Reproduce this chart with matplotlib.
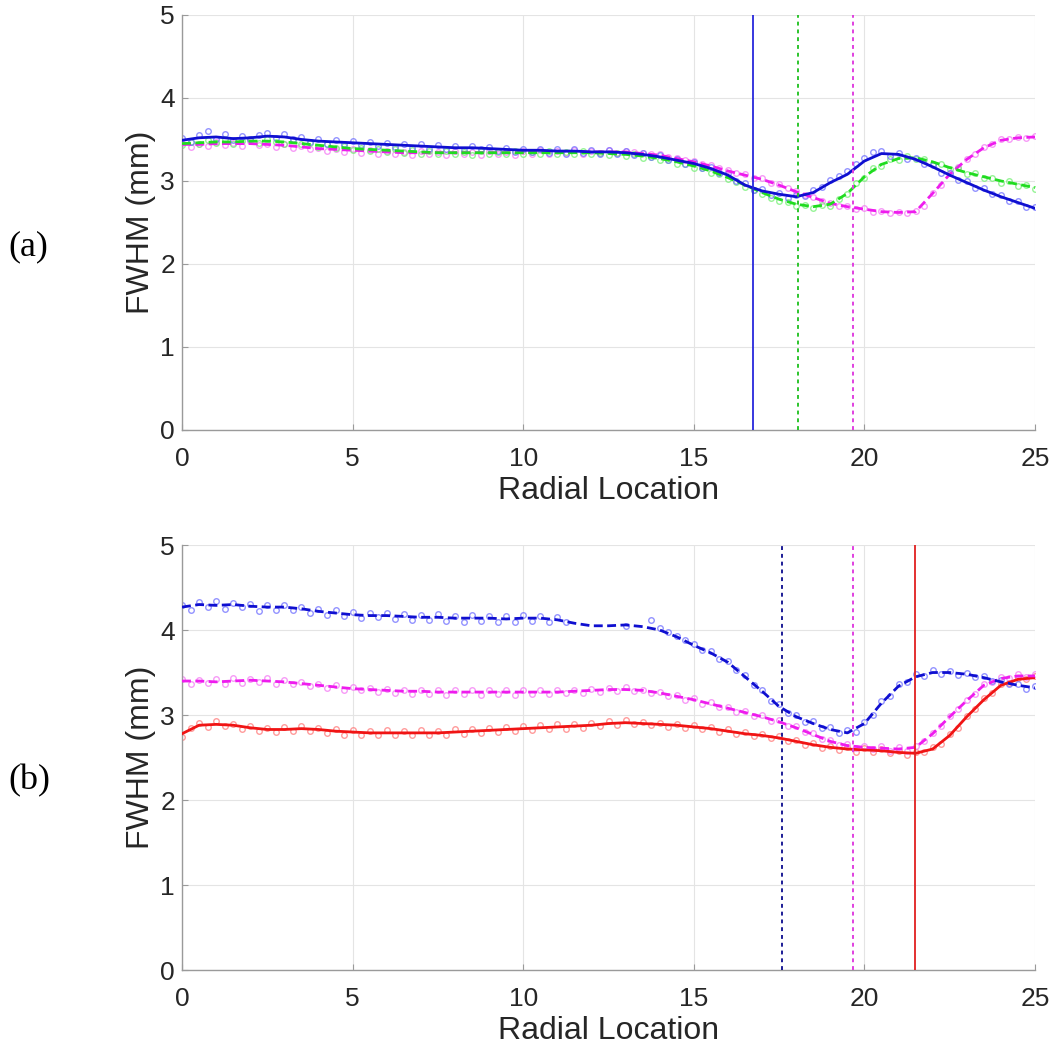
import numpy as np
import matplotlib
matplotlib.use("Agg")
import matplotlib.pyplot as plt

plt.rcParams["font.family"] = ["Liberation Sans", "DejaVu Sans"]

# ---------------- panel (a) ----------------
# smoothed fits, sampled every 0.5 from 0 to 25
a_blue_fit = [3.49, 3.52, 3.53, 3.51, 3.52, 3.54, 3.53, 3.50, 3.48, 3.47, 3.46, 3.45, 3.44, 3.43, 3.42, 3.41,
              3.40, 3.40, 3.39, 3.38, 3.37, 3.37, 3.36, 3.36, 3.35, 3.35, 3.34, 3.32, 3.29, 3.25, 3.21, 3.15,
              3.07, 2.95, 2.88, 2.84, 2.81, 2.86, 2.98, 3.08, 3.24, 3.33, 3.32, 3.26, 3.17, 3.07, 2.98, 2.89,
              2.81, 2.74, 2.67]
a_green_fit = [3.45, 3.46, 3.47, 3.47, 3.48, 3.48, 3.47, 3.45, 3.43, 3.41, 3.39, 3.38, 3.37, 3.36, 3.35, 3.34,
               3.34, 3.34, 3.34, 3.34, 3.34, 3.34, 3.34, 3.34, 3.34, 3.33, 3.32, 3.30, 3.27, 3.23, 3.18, 3.12,
               3.04, 2.95, 2.86, 2.78, 2.72, 2.69, 2.72, 2.85, 3.05, 3.20, 3.27, 3.28, 3.23, 3.16, 3.10, 3.05,
               3.00, 2.96, 2.92]
a_magenta_fit = [3.44, 3.44, 3.45, 3.45, 3.45, 3.44, 3.43, 3.41, 3.39, 3.38, 3.37, 3.36, 3.35, 3.34, 3.34, 3.34,
                 3.34, 3.34, 3.34, 3.34, 3.34, 3.35, 3.35, 3.35, 3.35, 3.35, 3.35, 3.33, 3.31, 3.27, 3.23, 3.18,
                 3.12, 3.07, 3.02, 2.95, 2.87, 2.80, 2.73, 2.69, 2.66, 2.63, 2.62, 2.63, 2.85, 3.08, 3.26, 3.40,
                 3.49, 3.52, 3.53]

# measured points, sampled every 0.25 from 0 to 25
a_blue_pts = [3.52, 3.47, 3.55, 3.60, 3.50, 3.56, 3.49, 3.54, 3.50, 3.55, 3.58, 3.52, 3.56, 3.50, 3.53, 3.47,
              3.50, 3.45, 3.49, 3.44, 3.48, 3.43, 3.47, 3.42, 3.46, 3.41, 3.45, 3.40, 3.44, 3.39, 3.43, 3.38,
              3.42, 3.37, 3.42, 3.38, 3.41, 3.36, 3.40, 3.35, 3.39, 3.35, 3.39, 3.34, 3.38, 3.33, 3.38, 3.34,
              3.37, 3.33, 3.37, 3.32, 3.36, 3.31, 3.34, 3.29, 3.31, 3.25, 3.27, 3.21, 3.23, 3.16, 3.17, 3.09,
              3.09, 3.00, 2.97, 2.89, 2.90, 2.83, 2.86, 2.80, 2.83, 2.82, 2.89, 2.93, 3.01, 3.06, 3.12, 3.20,
              3.28, 3.35, 3.36, 3.30, 3.34, 3.27, 3.28, 3.20, 3.19, 3.10, 3.09, 3.01, 3.00, 2.92, 2.91, 2.84,
              2.83, 2.76, 2.76, 2.69, 2.69]
a_green_pts = [3.43, 3.47, 3.44, 3.49, 3.46, 3.50, 3.45, 3.48, 3.51, 3.46, 3.50, 3.47, 3.45, 3.49, 3.44, 3.46,
               3.41, 3.44, 3.40, 3.42, 3.37, 3.40, 3.36, 3.39, 3.35, 3.38, 3.34, 3.37, 3.33, 3.36, 3.32, 3.36,
               3.33, 3.35, 3.31, 3.36, 3.33, 3.35, 3.32, 3.36, 3.32, 3.35, 3.33, 3.36, 3.32, 3.35, 3.33, 3.36,
               3.32, 3.34, 3.31, 3.34, 3.30, 3.32, 3.28, 3.29, 3.25, 3.25, 3.21, 3.20, 3.16, 3.15, 3.10, 3.08,
               3.02, 2.99, 2.93, 2.89, 2.84, 2.80, 2.76, 2.75, 2.70, 2.71, 2.67, 2.71, 2.70, 2.78, 2.84, 2.97,
               3.03, 3.15, 3.18, 3.27, 3.25, 3.30, 3.26, 3.27, 3.21, 3.21, 3.14, 3.15, 3.08, 3.09, 3.03, 3.04,
               2.98, 3.00, 2.94, 2.95, 2.90]
a_magenta_pts = [3.46, 3.41, 3.45, 3.42, 3.47, 3.43, 3.46, 3.42, 3.48, 3.43, 3.45, 3.41, 3.44, 3.40, 3.42, 3.38,
                 3.40, 3.36, 3.39, 3.35, 3.38, 3.34, 3.37, 3.32, 3.36, 3.32, 3.35, 3.31, 3.36, 3.32, 3.35, 3.31,
                 3.36, 3.32, 3.35, 3.31, 3.36, 3.33, 3.35, 3.31, 3.36, 3.33, 3.37, 3.33, 3.36, 3.34, 3.37, 3.33,
                 3.36, 3.34, 3.37, 3.34, 3.36, 3.35, 3.34, 3.33, 3.32, 3.29, 3.28, 3.25, 3.24, 3.20, 3.19, 3.15,
                 3.13, 3.10, 3.08, 3.04, 3.03, 2.98, 2.96, 2.91, 2.88, 2.83, 2.81, 2.76, 2.74, 2.70, 2.70, 2.66,
                 2.67, 2.63, 2.64, 2.61, 2.63, 2.61, 2.64, 2.70, 2.86, 2.95, 3.09, 3.17, 3.27, 3.33, 3.41, 3.45,
                 3.50, 3.50, 3.53, 3.52, 3.54]
a_cutoffs = [16.74, 18.05, 19.67]

# ---------------- panel (b) ----------------
b_blue_fit = [4.27, 4.30, 4.29, 4.30, 4.28, 4.27, 4.27, 4.25, 4.22, 4.20, 4.18, 4.17, 4.17, 4.16, 4.15, 4.15,
              4.14, 4.14, 4.14, 4.13, 4.14, 4.14, 4.12, 4.08, 4.05, 4.05, 4.06, 4.04, 4.00, 3.92, 3.82, 3.73,
              3.62, 3.45, 3.28, 3.10, 2.98, 2.90, 2.83, 2.79, 2.90, 3.14, 3.34, 3.45, 3.50, 3.50, 3.48, 3.44,
              3.39, 3.35, 3.32]
b_magenta_fit = [3.40, 3.40, 3.39, 3.40, 3.41, 3.40, 3.39, 3.37, 3.35, 3.33, 3.31, 3.30, 3.29, 3.28, 3.28, 3.27,
                 3.27, 3.27, 3.27, 3.27, 3.27, 3.27, 3.27, 3.28, 3.29, 3.30, 3.30, 3.29, 3.26, 3.22, 3.18, 3.13,
                 3.08, 3.03, 2.98, 2.92, 2.85, 2.77, 2.69, 2.64, 2.62, 2.61, 2.60, 2.62, 2.78, 2.98, 3.17, 3.35,
                 3.43, 3.46, 3.46]
b_red_fit = [2.78, 2.88, 2.89, 2.88, 2.85, 2.83, 2.83, 2.84, 2.83, 2.81, 2.80, 2.79, 2.79, 2.79, 2.79, 2.79,
             2.80, 2.81, 2.82, 2.83, 2.84, 2.85, 2.86, 2.87, 2.88, 2.90, 2.91, 2.90, 2.89, 2.88, 2.86, 2.84,
             2.81, 2.78, 2.76, 2.73, 2.69, 2.65, 2.62, 2.60, 2.59, 2.58, 2.56, 2.55, 2.60, 2.76, 2.98, 3.18,
             3.35, 3.42, 3.44]

nan = np.nan
b_blue_pts = [4.30, 4.24, 4.33, 4.27, 4.34, 4.25, 4.32, 4.27, 4.31, 4.22, 4.30, 4.24, 4.29, 4.23, 4.27, 4.20,
              4.25, 4.18, 4.23, 4.16, 4.21, 4.14, 4.20, 4.15, 4.20, 4.13, 4.19, 4.12, 4.18, 4.12, 4.19, 4.11,
              4.17, 4.10, 4.18, 4.11, 4.17, 4.09, 4.16, 4.10, 4.18, 4.11, 4.17, 4.10, 4.15, 4.09, nan, nan,
              nan, nan, nan, nan, 4.05, nan, nan, 4.12, 4.02, 3.98, 3.93, 3.88, 3.84, 3.76, 3.75, 3.66,
              3.64, 3.53, 3.47, 3.35, 3.30, 3.17, 3.13, 3.02, 3.00, 2.92, 2.93, 2.85, 2.86, 2.79, 2.82, 2.80,
              2.92, 3.00, 3.16, 3.22, 3.36, 3.39, 3.48, 3.46, 3.53, 3.48, 3.52, 3.47, 3.50, 3.45, 3.46, 3.40,
              3.41, 3.36, 3.37, 3.31, 3.34]
b_magenta_pts = [3.42, 3.37, 3.41, 3.38, 3.42, 3.37, 3.43, 3.38, 3.42, 3.39, 3.43, 3.37, 3.41, 3.36, 3.39, 3.34,
                 3.37, 3.32, 3.35, 3.30, 3.33, 3.29, 3.32, 3.27, 3.31, 3.26, 3.30, 3.25, 3.30, 3.25, 3.29, 3.24,
                 3.29, 3.25, 3.29, 3.24, 3.30, 3.25, 3.29, 3.24, 3.29, 3.25, 3.30, 3.25, 3.29, 3.26, 3.30, 3.26,
                 3.31, 3.27, 3.32, 3.28, 3.33, 3.28, 3.30, 3.26, 3.27, 3.22, 3.23, 3.18, 3.20, 3.13, 3.15, 3.09,
                 3.10, 3.04, 3.05, 2.99, 3.00, 2.93, 2.94, 2.87, 2.87, 2.80, 2.79, 2.72, 2.71, 2.65, 2.66, 2.61,
                 2.64, 2.60, 2.63, 2.58, 2.62, 2.58, 2.63, 2.69, 2.79, 2.87, 2.99, 3.07, 3.18, 3.25, 3.36, 3.39,
                 3.45, 3.44, 3.48, 3.45, 3.48]
b_red_pts = [2.74, 2.85, 2.91, 2.86, 2.93, 2.87, 2.90, 2.84, 2.87, 2.81, 2.85, 2.80, 2.86, 2.81, 2.87, 2.81,
             2.85, 2.79, 2.83, 2.77, 2.82, 2.76, 2.81, 2.76, 2.82, 2.76, 2.81, 2.76, 2.82, 2.77, 2.81, 2.77,
             2.83, 2.78, 2.84, 2.79, 2.85, 2.80, 2.86, 2.81, 2.87, 2.82, 2.88, 2.83, 2.89, 2.84, 2.90, 2.85,
             2.91, 2.87, 2.93, 2.88, 2.94, 2.89, 2.92, 2.88, 2.91, 2.86, 2.90, 2.85, 2.88, 2.83, 2.86, 2.80,
             2.83, 2.78, 2.80, 2.75, 2.78, 2.73, 2.75, 2.69, 2.71, 2.65, 2.67, 2.61, 2.64, 2.59, 2.62, 2.57,
             2.61, 2.56, 2.60, 2.55, 2.58, 2.53, 2.57, 2.56, 2.62, 2.66, 2.78, 2.85, 2.99, 3.07, 3.20, 3.26,
             3.36, 3.38, 3.44, 3.42, 3.46]
b_cutoffs = [17.58, 19.67, 21.48]

x_ticks = [0, 5, 10, 15, 20, 25]
y_ticks = [0, 1, 2, 3, 4, 5]

# colours
BLUE, BLUE_PT = "#0f0fd0", "#6f6fff"
GREEN, GREEN_PT = "#20dc20", "#74f074"
MAGENTA, MAGENTA_PT = "#ee1cee", "#f47af4"
RED, RED_PT = "#f01414", "#ff7a7a"
TEXT = "#262626"
AXIS = "#9a9a9a"


def draw_series(ax, fit, pts, line_color, pt_color, dashed):
    xf = np.linspace(0, 25, len(fit))
    xp = np.linspace(0, 25, len(pts))
    ax.plot(xp, pts, linestyle="none", marker="o", markersize=4.0,
            markerfacecolor="none", markeredgecolor=pt_color,
            markeredgewidth=1.0, alpha=0.75, zorder=2)
    if dashed:
        ax.plot(xf, fit, color=line_color, lw=2.0, dashes=(3.2, 1.6), zorder=3)
    else:
        ax.plot(xf, fit, color=line_color, lw=2.0, zorder=3)


def style_axes(ax):
    ax.set_xlim(0, 25)
    ax.set_ylim(0, 5)
    ax.set_xticks(x_ticks)
    ax.set_yticks(y_ticks)
    ax.grid(True, color="#e4e4e4", lw=0.8)
    ax.set_axisbelow(True)
    for side in ("top", "right"):
        ax.spines[side].set_visible(False)
    for side in ("left", "bottom"):
        ax.spines[side].set_color(AXIS)
        ax.spines[side].set_linewidth(1.0)
    ax.tick_params(direction="in", length=4, width=0.8, color=AXIS,
                   labelsize=19, labelcolor=TEXT)
    ax.tick_params(axis="x", pad=12)
    ax.tick_params(axis="y", pad=5)
    ax.set_xlabel("Radial Location", fontsize=23, color=TEXT, labelpad=4)
    ax.set_ylabel("FWHM (mm)", fontsize=23, color=TEXT, labelpad=3)


fig = plt.figure(figsize=(10.57, 10.53), dpi=100)
ax_a = fig.add_axes([0.1722, 0.5917, 0.8070, 0.3941])
ax_b = fig.add_axes([0.1722, 0.0788, 0.8070, 0.4036])

# panel (a)
draw_series(ax_a, a_magenta_fit, a_magenta_pts, MAGENTA, MAGENTA_PT, True)
draw_series(ax_a, a_green_fit, a_green_pts, GREEN, GREEN_PT, True)
draw_series(ax_a, a_blue_fit, a_blue_pts, BLUE, BLUE_PT, False)
ax_a.axvline(a_cutoffs[0], color="#2828dc", lw=1.3, zorder=4)
ax_a.axvline(a_cutoffs[1], color="#2cc42c", lw=1.4, dashes=(2, 2), zorder=4)
ax_a.axvline(a_cutoffs[2], color="#e040e0", lw=1.4, dashes=(2, 2), zorder=4)
style_axes(ax_a)

# panel (b)
draw_series(ax_b, b_red_fit, b_red_pts, RED, RED_PT, False)
draw_series(ax_b, b_magenta_fit, b_magenta_pts, MAGENTA, MAGENTA_PT, True)
draw_series(ax_b, b_blue_fit, b_blue_pts, BLUE, BLUE_PT, True)
ax_b.axvline(b_cutoffs[0], color="#1c1c96", lw=1.4, dashes=(2, 2), zorder=4)
ax_b.axvline(b_cutoffs[1], color="#e040e0", lw=1.4, dashes=(2, 2), zorder=4)
ax_b.axvline(b_cutoffs[2], color="#e02020", lw=1.3, zorder=4)
style_axes(ax_b)

fig.text(8 / 1057, 1 - 247 / 1053, "(a)", family=["Liberation Serif", "DejaVu Serif"],
         fontsize=26, color="black", ha="left", va="center")
fig.text(8 / 1057, 1 - 781 / 1053, "(b)", family=["Liberation Serif", "DejaVu Serif"],
         fontsize=26, color="black", ha="left", va="center")

fig.savefig("out.png", dpi=100)
